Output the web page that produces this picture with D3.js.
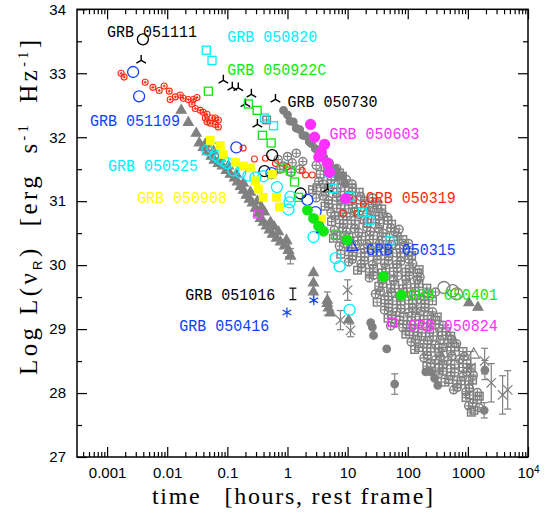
<!DOCTYPE html>
<html>
<head>
<meta charset="utf-8">
<script src="https://cdn.jsdelivr.net/npm/d3@7"></script>
<style>
  body { margin: 0; background: #fff; }
</style>
</head>
<body>
<div id="chart"></div>
<script>
// ---- axis ticks ----
var xMajor = [0.001, 0.01, 0.1, 1, 10, 100, 1000, 10000];
var yMajor = [27, 28, 29, 30, 31, 32, 33, 34];
var yMinor = [27.5, 28.5, 29.5, 30.5, 31.5, 32.5, 33.5];

// ---- coloured GRBs: [time (h, rest frame), log L] ----
var grb050319 = [[0.00171,33.0],[0.00192,32.94],[0.0043,32.86],[0.00578,32.78],[0.00736,32.73],[0.0089,32.8],
  [0.0108,32.72],[0.0112,32.59],[0.0136,32.63],[0.0165,32.66],[0.0185,32.61],[0.0224,32.59],[0.0271,32.59],
  [0.0313,32.62],[0.0258,32.52],[0.0293,32.45],[0.0355,32.42],[0.0398,32.39],[0.0459,32.36],[0.043,32.3],
  [0.0556,32.3],[0.063,32.3],[0.0708,32.27],[0.063,32.2],[0.0708,32.16],[0.0459,32.24],[0.052,32.22],
  [0.183,31.83],[0.282,31.66],[0.43,31.67],[0.631,31.59],[0.99,31.54],[1.76,31.48],[2.0,31.41],[2.58,31.41],
  [8.48,30.81],[12.6,31.02],[14.1,30.81],[18.3,30.95]];
var grb051111 = [[0.00394,33.53],[0.414,31.47],[0.556,31.72],[1.65,31.12]];
var grb050730 = [[0.00369,33.2],[0.0858,32.89],[0.121,32.78],[0.152,32.77],[0.251,32.67],[0.2,32.52],
  [0.631,32.59],[0.316,32.2],[4.64,31.19]];
var grb050820 = [[0.0447,33.36],[0.0556,33.2],[0.414,32.3],[0.585,32.18],[5.0,31.44],[5.84,31.2],[10.8,31.07],
  [17.6,30.83],[23.3,30.7],[50,30.38]];
var grb050922c = [[0.0483,32.72],[0.224,32.52],[0.313,32.42],[0.383,32.03],[0.535,31.91],[0.794,31.52],
  [1.12,31.47],[1.31,31.3],[1.52,31.06],[6.31,30.47]];
var grb051109 = [[0.00271,33.02],[0.00341,32.64],[0.141,31.84],[0.541,31.44],[2.15,31.02],[2.93,30.83]];
var grb050603 = [[2.42,32.2],[2.82,32.0],[4.14,31.89],[3.65,31.77],[3.32,31.69],[4.59,31.6],[5.01,31.45],[9.26,31.04]];
var grb050525 = [[0.0464,31.8],[0.0562,31.84],[0.063,31.72],[0.0736,31.67],[0.0858,31.63],[0.1,31.59],[0.126,31.48],
  [0.165,31.45],[0.224,31.4],[0.293,31.37],[0.398,31.39],[0.668,31.22],[1.12,31.07],[1.08,30.98],[1.04,30.87],
  [2.71,30.44],[6.31,30.11],[7.36,29.98],[10.8,29.3]];
var grb050908 = [[0.052,31.95],[0.0764,31.87],[0.0858,31.73],[0.136,31.61],[0.185,31.55],[0.242,31.52],[0.293,31.32],
  [0.329,31.19],[0.394,31.06],[0.562,31.42],[0.656,31.06],[0.736,30.91],[3.69,30.72]];
var grb050315 = [[3.79,30.56],[12.0,30.28]];
var grb051016 = [[1.23,29.55,0.09]];
var grb050416 = [[0.98,29.26],[2.74,29.45]];
var grb050401 = [[2.15,30.86],[2.71,30.73],[3.29,30.61],[3.98,30.53],[9.9,30.39],[39.4,29.82],[78.5,29.53]];
var grb050824 = [[0.322,30.8],[55.6,29.11]];

// ---- grey comparison sample ----
var grayTri = [[0.0171,32.42],[0.0224,32.23],[0.0304,32.06],[0.0341,31.91],[0.0398,31.84],[0.0464,31.77],[0.0541,31.7],
  [0.0607,31.64],[0.0708,31.59],[0.0826,31.55],[0.0962,31.48],[0.112,31.42],[0.131,31.36],[0.147,31.3],[0.165,31.23],
  [0.185,31.17],[0.207,31.09],[0.233,31.03],[0.261,30.97],[0.293,30.89],[0.329,30.81],[0.355,30.73],[0.398,30.67],
  [0.447,30.61],[0.501,30.55],[0.562,30.48],[0.656,30.42],[0.764,30.36],[0.891,30.3],[1.04,30.23],[1.12,30.14],
  [0.043,31.89],[0.0585,31.78],[0.0764,31.67],[0.104,31.55],[0.141,31.42],[0.185,31.28],[0.242,31.14],[0.316,31.0],
  [0.414,30.83],[0.521,30.67],[0.708,30.52],[0.962,30.39],[0.37,30.9],[0.6,30.6],
  [2.7,29.88],[2.7,29.72],[4.6,29.45],[5.2,29.25],[4.8,29.33],[10.4,29.14],[1040,29.41],[1470,29.34]];
var grayTriErr = [[1.04,30.23,0.1],[1.12,30.14,0.12],[2.7,29.58,0.15],[4.6,29.4,0.18]];
var grayOpenTri = [[580,28.78],[1250,28.6]];
var grayDot = [[0.86,32.42],[1.0,32.35],[1.25,32.24],[1.6,32.12],[2.0,32.02],[2.5,31.9],[3.2,31.8],[4.0,31.69],
  [5.0,31.6],[6.3,31.5],[8.0,31.4],[1.1,32.25],[1.4,32.14],[1.8,32.03],[2.3,31.93],[2.9,31.82],[3.6,31.7],
  [4.5,31.6],[5.6,31.48],[7.0,31.38],[9.0,31.28],
  [24.2,29.1],[25.8,29.03],[27,28.9],[44.7,28.69],[242,28.33],[316,28.12],[280,28.23],[200,28.33]];
var grayDotErr = [[60.7,28.14,0.16],[1920,28.36,0.15],[1870,27.73,0.12]];
var grayCross = [[10,29.61,0.16],[7.6,29.14,0.15],[11.2,28.98,0.1],[3780,27.97,0.3],[2450,28.16,0.3],
  [1120,28.4,0.25],[4600,28.05,0.3],[1900,28.5,0.2],[140,29.35,0.12],[360,28.62,0.15]];
var grayBigRing = [[400,29.65],[560,29.6],[650,29.55]];
var grayRing = [[0.7,31.65],[0.85,31.55],[1.0,31.7],[1.2,31.6],[1.4,31.75],[1.6,31.5],[1.8,31.62],[1.15,31.45],[0.75,31.5],
  [3.0,31.56],[4.2,31.52],[4.9,31.58],[6.6,31.51],
  [3.3,31.31],[3.9,31.27],[5.3,31.33],[6.0,31.26],[8.4,31.3],[9.5,31.34],[11.8,31.27],
  [3.0,31.05],[3.9,31.08],[4.8,31.01],[6.5,31.06],[7.8,31.02],[10.5,31.09],[12,31.03],[16.5,31.07],[19,31.0],[26,31.05],[29,30.98],
  [5.3,30.82],[6.1,30.77],[8.4,30.81],[9.6,30.76],[13,30.84],[15.5,30.79],[21,30.81],[24,30.85],[33,30.77],[38,30.8],[46,30.75],
  [6.0,30.55],[8.3,30.58],[9.6,30.52],[13,30.57],[15.4,30.51],[21,30.59],[24,30.53],[33,30.57],[39,30.5],[52,30.58],[61,30.52],[72,30.56],
  [7.3,30.3],[8.7,30.34],[11.5,30.27],[13.5,30.32],[18.8,30.26],[21,30.33],[29,30.28],[34,30.34],[47,30.27],[54,30.32],[73,30.26],[86,30.31],[103,30.34],
  [10.4,30.05],[12,30.09],[16.7,30.02],[19,30.07],[26,30.01],[31,30.08],[41,30.03],[48,30.07],[65,30.01],[77,30.06],[104,30.09],[121,30.02],
  [23,29.8],[27,29.84],[37,29.77],[43,29.82],[58,29.76],[68,29.83],[93,29.78],[106,29.84],[145,29.77],[160,29.81],
  [29,29.55],[35,29.59],[47,29.51],[54,29.57],[73,29.52],[86,29.58],[114,29.53],[135,29.59],[186,29.51],[212,29.56],[290,29.58],
  [41,29.3],[48,29.34],[65,29.27],[77,29.32],[104,29.26],[120,29.33],[166,29.28],[193,29.34],[258,29.27],
  [52,29.05],[61,29.09],[83,29.02],[96,29.07],[130,29.01],[154,29.08],[208,29.03],[240,29.09],[330,29.02],[385,29.06],
  [114,28.8],[135,28.84],[186,28.77],[212,28.82],[290,28.76],[345,28.83],[465,28.78],[540,28.84],[650,28.77],
  [186,28.55],[212,28.59],[290,28.52],[345,28.57],[465,28.51],[540,28.58],[725,28.53],[870,28.57],
  [330,28.3],[385,28.34],[520,28.27],[605,28.32],[830,28.26],[960,28.33],[1230,28.28],
  [580,28.05],[670,28.09],[930,28.02],[1060,28.07],[1440,28.01],
  [1030,27.8],[1200,27.84],[1540,27.77]];
var grayBox = [[0.45,32.27],
  [3.5,31.42],[4.7,31.46],[5.4,31.39],[7.3,31.44],[8.2,31.39],
  [2.6,31.18],[3.1,31.21],[4.2,31.15],[4.8,31.2],[6.6,31.14],[7.7,31.21],[10.4,31.16],[12,31.2],[15.6,31.14],
  [4.2,30.92],[4.8,30.96],[6.6,30.89],[7.7,30.94],[10.4,30.88],[12,30.95],[16.6,30.9],[19.2,30.96],[26,30.89],[31,30.94],[37,30.88],
  [5.4,30.68],[7.3,30.71],[8.6,30.65],[11.5,30.7],[13.4,30.64],[18.8,30.71],[21,30.66],[29,30.72],[34,30.65],[47,30.7],[54,30.64],
  [5.8,30.42],[6.7,30.46],[9.4,30.39],[10.5,30.44],[14.6,30.38],[17.2,30.45],[23,30.4],[27,30.46],[37.5,30.39],[43,30.44],[58,30.38],[67,30.45],[83,30.4],
  [7.7,30.17],[10.4,30.21],[12,30.14],[16.6,30.19],[19.2,30.13],[26,30.2],[31,30.15],[41.5,30.21],[48,30.14],[65,30.19],[77,30.13],[104,30.2],[116,30.15],
  [14.6,29.92],[17.2,29.96],[23,29.89],[27,29.94],[37.5,29.88],[43,29.95],[58,29.9],[67,29.96],[93,29.89],[106,29.94],[145,29.88],[155,29.93],
  [33,29.67],[38.5,29.71],[52,29.64],[61,29.69],[83,29.63],[96,29.7],[130,29.65],[154,29.71],[208,29.64],
  [31,29.42],[41.5,29.46],[48,29.39],[65,29.44],[77,29.38],[104,29.45],[120,29.4],[166,29.46],[193,29.39],[258,29.44],
  [47,29.17],[54,29.21],[73,29.14],[86,29.19],[114,29.13],[135,29.2],[186,29.15],[212,29.21],[290,29.14],[310,29.19],
  [93,28.92],[106,28.96],[145,28.89],[173,28.94],[228,28.88],[268,28.95],[372,28.9],[434,28.96],[520,28.89],
  [130,28.68],[154,28.71],[208,28.65],[240,28.7],[330,28.64],[385,28.71],[520,28.66],[605,28.72],[830,28.65],
  [208,28.42],[240,28.46],[330,28.39],[385,28.44],[520,28.38],[605,28.45],[830,28.4],[960,28.46],[1140,28.39],
  [415,28.17],[480,28.21],[655,28.14],[770,28.19],[1040,28.13],[1200,28.2],
  [930,27.93],[1060,27.97],[1440,27.9],[1550,27.95],
  [1140,27.7],[1260,27.73]];

// ---- labels: name, colour, anchor [time, log L] of the text start ----
var labelNames = ["GRB 051111","GRB 050820","GRB 050922C","GRB 050730","GRB 051109","GRB 050603","GRB 050525",
  "GRB 050908","GRB 050319","GRB 050315","GRB 051016","GRB 050416","GRB 050401","GRB 050824"];
var labelAt = [[0.001,33.57],[0.1,33.49],[0.1,32.98],[1.0,32.48],[0.00052,32.17],[5.0,31.97],[0.00104,31.47],
  [0.00316,30.97],[20,30.97],[20,30.16],[0.02,29.45],[0.0158,28.97],[100,29.45],[100,28.97]];

var C = {gray:"#808080", red:"#ff2a10", cyan:"#00f0ff", green:"#10e810", blue:"#1040ff",
         magenta:"#ff30ff", yellow:"#ffff00", black:"#000"};
var labelColors = [C.black,C.cyan,C.green,C.black,C.blue,C.magenta,C.cyan,C.yellow,C.red,C.blue,C.black,C.blue,C.green,C.magenta];

var W = 552, H = 513;
var svg = d3.select("#chart").append("svg").attr("width", W).attr("height", H)
  .style("font-family", "'Liberation Sans', Arial, sans-serif");

var x = d3.scaleLog().domain([0.000316, 10000]).range([77, 528]);
var y = d3.scaleLinear().domain([27, 34]).range([457, 9.3]);

var plot = svg.append("g");

function errBars(g, data, color) {
  data.forEach(function(d) {
    var cx = x(d[0]);
    g.append("line").attr("x1", cx).attr("x2", cx).attr("y1", y(d[1]-d[2])).attr("y2", y(d[1]+d[2]))
      .attr("stroke", color).attr("stroke-width", 1.2);
    [d[1]-d[2], d[1]+d[2]].forEach(function(v) {
      g.append("line").attr("x1", cx-3.5).attr("x2", cx+3.5).attr("y1", y(v)).attr("y2", y(v))
        .attr("stroke", color).attr("stroke-width", 1.2);
    });
  });
}
function circles(g, data, color, r, filled, sw) {
  g.selectAll(null).data(data).enter().append("circle")
    .attr("cx", function(d){return x(d[0]);}).attr("cy", function(d){return y(d[1]);}).attr("r", r)
    .attr("fill", filled ? color : "none").attr("stroke", color).attr("stroke-width", sw || 1.2);
}
function squares(g, data, color, s, filled, sw) {
  g.selectAll(null).data(data).enter().append("rect")
    .attr("x", function(d){return x(d[0]) - s/2;}).attr("y", function(d){return y(d[1]) - s/2;})
    .attr("width", s).attr("height", s)
    .attr("fill", filled ? color : "none").attr("stroke", color).attr("stroke-width", sw || 1.2);
}
function crosses(g, data, color, r) {
  g.selectAll(null).data(data).enter().append("path")
    .attr("d", function(d){var cx=x(d[0]), cy=y(d[1]);
      return "M"+(cx-r)+","+cy+"H"+(cx+r)+"M"+cx+","+(cy-r)+"V"+(cy+r);})
    .attr("stroke", color).attr("stroke-width", 1.1).attr("fill", "none");
}
function symbols(g, data, type, size, color, filled) {
  g.selectAll(null).data(data).enter().append("path")
    .attr("transform", function(d){return "translate("+x(d[0])+","+y(d[1])+")";})
    .attr("d", d3.symbol().type(type).size(size))
    .attr("fill", filled ? color : "none").attr("stroke", color).attr("stroke-width", 1.2);
}
function triStars(g, data, color, r) {
  g.selectAll(null).data(data).enter().append("path")
    .attr("d", function(d){var cx=x(d[0]), cy=y(d[1]);
      return "M"+cx+","+cy+"V"+(cy-r)+"M"+cx+","+cy+"L"+(cx-r*0.87)+","+(cy+r*0.5)+
             "M"+cx+","+cy+"L"+(cx+r*0.87)+","+(cy+r*0.5);})
    .attr("stroke", color).attr("stroke-width", 1.4).attr("fill", "none");
}
var symTimes = d3.symbolTimes || d3.symbolCross;

// grey sample
circles(plot, grayRing, C.gray, 4, false, 1.5);
crosses(plot, grayRing, C.gray, 3);
squares(plot, grayBox, C.gray, 7.5, false, 1.5);
crosses(plot, grayBox, C.gray, 3);
symbols(plot, grayTri, d3.symbolTriangle, 42, C.gray, true);
errBars(plot, grayTriErr, C.gray);
symbols(plot, grayTriErr, d3.symbolTriangle, 42, C.gray, true);
symbols(plot, grayOpenTri, d3.symbolTriangle, 60, C.gray, false);
circles(plot, grayDot, C.gray, 3.8, true);
errBars(plot, grayDotErr, C.gray);
circles(plot, grayDotErr, C.gray, 3.8, true);
errBars(plot, grayCross, C.gray);
symbols(plot, grayCross, symTimes, 60, C.gray, false);
circles(plot, grayBigRing, C.gray, 6, false, 1.3);

// coloured bursts
circles(plot, grb050319, C.red, 3, false, 1.1);
crosses(plot, grb050319.slice(0, 27), C.red, 1.5);
circles(plot, grb051111, C.black, 5.5, false, 1.3);
triStars(plot, grb050730, C.black, 5.5);
squares(plot, grb050820, C.cyan, 8, false, 1.3);
squares(plot, grb050922c, C.green, 8, false, 1.3);
circles(plot, grb051109, C.blue, 5.5, false, 1.3);
circles(plot, grb050603, C.magenta, 5, true);
circles(plot, grb050525, C.cyan, 5.5, false, 1.3);
squares(plot, grb050908, C.yellow, 7.5, true);
symbols(plot, grb050315, d3.symbolTriangle, 55, C.blue, false);
errBars(plot, grb051016, C.black);
symbols(plot, grb050416, d3.symbolAsterisk, 70, C.blue, false);
circles(plot, grb050401, C.green, 4.8, true);
squares(plot, grb050824, C.magenta, 8, false, 1.3);

// labels
svg.append("g").selectAll("text").data(labelNames).enter().append("text")
  .attr("x", function(d, i){return x(labelAt[i][0]);})
  .attr("y", function(d, i){return y(labelAt[i][1]);})
  .attr("fill", function(d, i){return labelColors[i];})
  .attr("textLength", function(d){return d.length * 9;})
  .attr("lengthAdjust", "spacingAndGlyphs")
  .style("font-family", "'Liberation Mono', 'Courier New', monospace")
  .style("font-size", "17px")
  .text(function(d){return d;});

// axes (ticks point inwards on all four sides)
var xAll = x.ticks();
var isDecade = function(d){ var l = Math.log10(d); return Math.abs(l - Math.round(l)) < 1e-6; };
var xMinor = xAll.filter(function(d){ return !isDecade(d); });

function styleAxis(g) {
  g.select(".domain").remove();
  g.selectAll(".tick line").attr("stroke", "#000").attr("stroke-width", 1.2);
  g.selectAll("text").attr("fill", "#000").style("font-size", "15px")
    .style("font-family", "'Liberation Sans', Arial, sans-serif");
}
var bottom = svg.append("g").attr("transform", "translate(0," + y(27) + ")")
  .call(d3.axisBottom(x).tickValues(xMajor).tickSize(-10).tickPadding(10)
    .tickFormat(function(d){ return d >= 1 ? d3.format("d")(d) : String(d); }))
  .call(styleAxis);
bottom.selectAll(".tick text").filter(function(d){ return d === 10000; })
  .text("10").append("tspan").attr("dy", "-0.45em").style("font-size", "10px").text("4");
svg.append("g").attr("transform", "translate(0," + y(27) + ")")
  .call(d3.axisBottom(x).tickValues(xMinor).tickSize(-5).tickFormat("")).call(styleAxis);
svg.append("g").attr("transform", "translate(0," + y(34) + ")")
  .call(d3.axisTop(x).tickValues(xMajor).tickSize(-10).tickFormat("")).call(styleAxis);
svg.append("g").attr("transform", "translate(0," + y(34) + ")")
  .call(d3.axisTop(x).tickValues(xMinor).tickSize(-5).tickFormat("")).call(styleAxis);
svg.append("g").attr("transform", "translate(" + x.range()[0] + ",0)")
  .call(d3.axisLeft(y).tickValues(yMajor).tickSize(-10).tickPadding(11).tickFormat(d3.format("d")))
  .call(styleAxis);
svg.append("g").attr("transform", "translate(" + x.range()[0] + ",0)")
  .call(d3.axisLeft(y).tickValues(yMinor).tickSize(-5).tickFormat("")).call(styleAxis);
svg.append("g").attr("transform", "translate(" + x.range()[1] + ",0)")
  .call(d3.axisRight(y).tickValues(yMajor).tickSize(-10).tickFormat("")).call(styleAxis);
svg.append("g").attr("transform", "translate(" + x.range()[1] + ",0)")
  .call(d3.axisRight(y).tickValues(yMinor).tickSize(-5).tickFormat("")).call(styleAxis);

svg.append("rect").attr("x", x.range()[0]).attr("y", y(34))
  .attr("width", x.range()[1] - x.range()[0]).attr("height", y(27) - y(34))
  .attr("fill", "none").attr("stroke", "#000").attr("stroke-width", 1.5);

// axis titles
svg.append("text").attr("x", 152).attr("y", 504)
  .attr("xml:space", "preserve")
  .attr("textLength", 281).attr("lengthAdjust", "spacing")
  .style("font-family", "'Liberation Serif', 'Times New Roman', serif").style("font-size", "24px")
  .text("time   [hours, rest frame]");

var yt = svg.append("text").attr("transform", "translate(37,375) rotate(-90)")
  .attr("xml:space", "preserve")
  .attr("textLength", 335).attr("lengthAdjust", "spacing")
  .style("font-family", "'Liberation Serif', 'Times New Roman', serif").style("font-size", "25px");
yt.append("tspan").text("Log L(\u03bd");
yt.append("tspan").attr("dy", 5).style("font-size", "13px")
  .style("font-family", "'Liberation Sans', Arial, sans-serif").text("R");
yt.append("tspan").attr("dy", -5).text(")  [erg  s");
yt.append("tspan").attr("dy", -9).style("font-size", "14px").text("-1");
yt.append("tspan").attr("dy", 9).text("  Hz");
yt.append("tspan").attr("dy", -9).style("font-size", "14px").text("-1");
yt.append("tspan").attr("dy", 9).text("]");
</script>
</body>
</html>
